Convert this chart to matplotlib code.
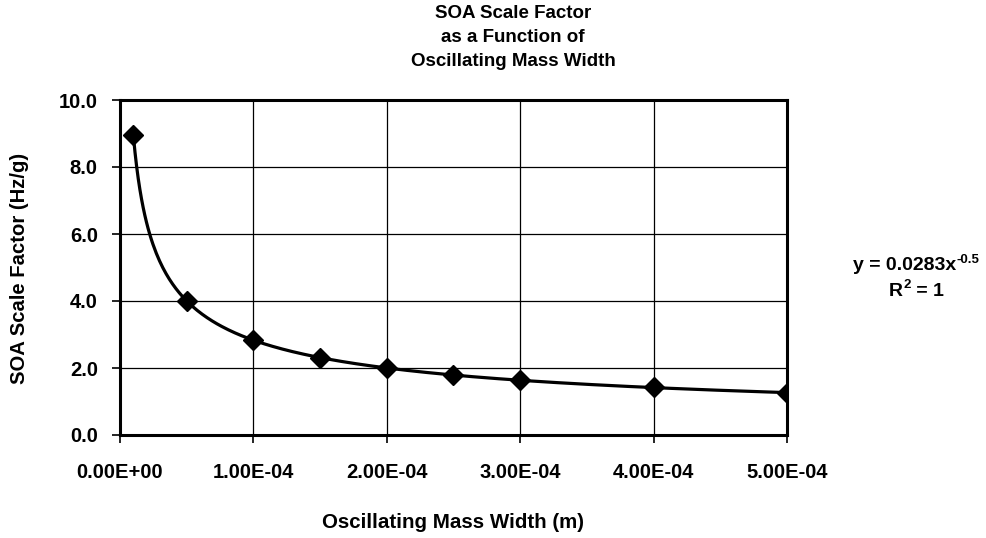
import numpy as np
import matplotlib
matplotlib.use("Agg")
import matplotlib.pyplot as plt
from matplotlib.ticker import FixedLocator

# data
width_m = [1.0e-5, 5.0e-5, 1.0e-4, 1.5e-4, 2.0e-4, 2.5e-4, 3.0e-4, 4.0e-4, 5.0e-4]
scale_factor = [8.95, 4.00, 2.83, 2.31, 2.00, 1.79, 1.63, 1.42, 1.26]
x_ticks = [0.0, 1e-4, 2e-4, 3e-4, 4e-4, 5e-4]
x_tick_labels = ["0.00E+00", "1.00E-04", "2.00E-04", "3.00E-04", "4.00E-04", "5.00E-04"]
y_ticks = [0.0, 2.0, 4.0, 6.0, 8.0, 10.0]
y_tick_labels = ["0.0", "2.0", "4.0", "6.0", "8.0", "10.0"]
fit_coef = 0.0283
fit_exp = -0.5

plt.rcParams['font.family'] = ['Liberation Sans', 'DejaVu Sans']
plt.rcParams['font.weight'] = 'bold'

fig = plt.figure(figsize=(9.87, 5.38), dpi=100)
ax = fig.add_axes([120/987, 1-435/538, (787-120)/987, (435-100)/538])

# power trendline
xt = np.linspace(width_m[0], width_m[-1], 400)
ax.plot(xt, fit_coef * xt ** fit_exp, color='black', lw=2.3, zorder=3)
ax.plot(width_m, scale_factor, linestyle='none', marker='D', ms=10,
        color='black', zorder=4)

ax.set_xlim(0, 5e-4)
ax.set_ylim(0, 10)
ax.xaxis.set_major_locator(FixedLocator(x_ticks))
ax.yaxis.set_major_locator(FixedLocator(y_ticks))
ax.set_xticklabels(x_tick_labels)
ax.set_yticklabels(y_tick_labels)
ax.tick_params(axis='both', direction='out', length=6, width=1.2, labelsize=14.5,
               colors='black')
ax.tick_params(axis='x', pad=14)
ax.tick_params(axis='y', pad=10)
ax.grid(True, color='black', lw=0.9)
ax.set_axisbelow(True)
for s in ax.spines.values():
    s.set_linewidth(2.2)
    s.set_color('black')

for txt, yy in [("SOA Scale Factor", 14), ("as a Function of", 38),
                ("Oscillating Mass Width", 62)]:
    fig.text(513/987, 1-yy/538, txt, ha='center', va='center',
             fontsize=13.5, fontweight='bold')

fig.text(453/987, 1-522/538, "Oscillating Mass Width (m)", ha='center', va='center',
         fontsize=14.8, fontweight='bold')
fig.text(20/987, 1-268/538, "SOA Scale Factor (Hz/g)", ha='center', va='center',
         rotation=90, fontsize=14.6, fontweight='bold')

# trendline equation (hyphen-style exponent, as in the reference)
t1 = fig.text(853/987, 1-266/538, "y = 0.0283x", ha='left', va='center',
              fontsize=14, fontweight='bold')
ax.annotate("-0.5", xy=(1, 0.5), xycoords=t1, xytext=(0.5, 0),
            textcoords='offset points', ha='left', va='bottom',
            fontsize=9.5, fontweight='bold', annotation_clip=False)
tR = fig.text(889/987, 1-291/538, "R", ha='left', va='center',
              fontsize=14, fontweight='bold')
t2 = ax.annotate("2", xy=(1, 0.5), xycoords=tR, xytext=(0.5, 0),
                 textcoords='offset points', ha='left', va='bottom',
                 fontsize=9.5, fontweight='bold', annotation_clip=False)
ax.annotate(" = 1", xy=(1, 0), xycoords=(t2, tR), ha='left', va='bottom',
            fontsize=14, fontweight='bold', annotation_clip=False)

fig.savefig("out.png", dpi=100)
